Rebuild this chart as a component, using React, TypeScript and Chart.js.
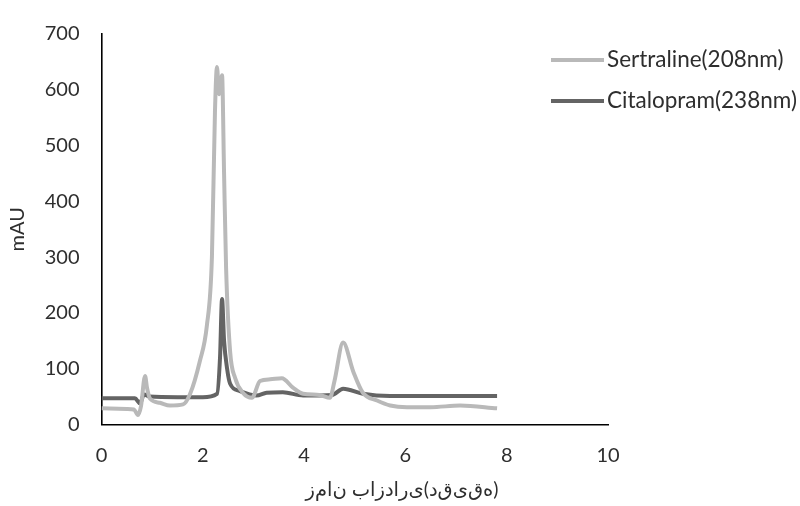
import React, { useEffect, useRef } from "react";
import { Chart, registerables } from "chart.js";

Chart.register(...registerables);

const seriesNames = ["Sertraline(208nm)", "Citalopram(238nm)"];

const sertralineTime = [0, 0.5, 0.64, 0.72, 0.78, 0.86, 0.9, 0.96, 1.15, 1.35, 1.61, 1.75, 1.94, 2.08, 2.18, 2.24, 2.28, 2.32, 2.38, 2.42, 2.46, 2.54, 2.64, 2.79, 2.97, 3.13, 3.33, 3.56, 3.78, 3.98, 4.3, 4.51, 4.6, 4.77, 4.97, 5.16, 5.44, 5.7, 6.03, 6.5, 7.08, 7.81];
const sertralineAbs = [29, 28, 27, 17, 33, 87, 65, 46, 39, 34, 36, 55, 113, 177, 300, 560, 641, 592, 626, 450, 280, 130, 83, 57, 48, 78, 81, 83, 66, 55, 53, 48, 78, 147, 95, 57, 43, 34, 31, 31, 34, 29];

const citalopramTime = [0, 0.66, 0.76, 0.84, 0.95, 1.5, 2.0, 2.28, 2.34, 2.38, 2.42, 2.48, 2.54, 2.73, 3.06, 3.26, 3.58, 3.98, 4.55, 4.77, 5.16, 5.7, 7.81];
const citalopramAbs = [47, 47, 38, 54, 50, 49, 49, 55, 120, 225, 150, 100, 73, 60, 52, 57, 58, 52, 53, 64, 55, 51, 51];

const xTitleText = "زمان بازداری(دقیقه)";
const yTitle = "mAU";

// the reference lays the Persian title out character by character from left to right
const xTitle = Array.from(xTitleText).join("\u200E");

const FONT = "Lato, 'DejaVu Sans', sans-serif";
const TEXT_COLOR = "#2e2e2e";
const COLORS = ["#b9b9b9", "#646464"];

const annotationsPlugin = {
  id: "customLegendAndTitle",
  afterDraw(chart: any) {
    const ctx = chart.ctx;
    const rows = [60, 101];
    ctx.save();
    chart.data.datasets.forEach((ds: any, i: number) => {
      const y = rows[i];
      ctx.strokeStyle = ds.borderColor;
      ctx.lineWidth = 4;
      ctx.lineCap = "butt";
      ctx.beginPath();
      ctx.moveTo(551, y);
      ctx.lineTo(604, y);
      ctx.stroke();
      ctx.fillStyle = TEXT_COLOR;
      ctx.font = `22.5px ${FONT}`;
      ctx.textBaseline = "middle";
      ctx.textAlign = "left";
      ctx.fillText(ds.label, 607, y);
    });
    // x axis title
    ctx.fillStyle = TEXT_COLOR;
    ctx.font = `19.5px ${FONT}`;
    ctx.textBaseline = "middle";
    ctx.textAlign = "center";
    ctx.fillText(xTitle, 402, 490);
    ctx.restore();
  },
};

export default function App() {
  const ref = useRef<HTMLCanvasElement | null>(null);

  useEffect(() => {
    document.body.style.margin = "0";
    const canvas = ref.current;
    if (!canvas) return;
    const toPoints = (xs: number[], ys: number[]) => xs.map((x, i) => ({ x, y: ys[i] }));
    const chart = new Chart(canvas, {
      type: "line",
      data: {
        datasets: [
          {
            label: seriesNames[0],
            data: toPoints(sertralineTime, sertralineAbs),
            borderColor: COLORS[0],
            backgroundColor: COLORS[0],
            borderWidth: 4,
            pointRadius: 0,
            cubicInterpolationMode: "monotone",
          },
          {
            label: seriesNames[1],
            data: toPoints(citalopramTime, citalopramAbs),
            borderColor: COLORS[1],
            backgroundColor: COLORS[1],
            borderWidth: 4,
            pointRadius: 0,
            cubicInterpolationMode: "monotone",
          },
        ],
      },
      options: {
        animation: false,
        responsive: false,
        devicePixelRatio: 1,
        layout: { padding: { left: 0, top: 23, right: 192, bottom: 0 } },
        plugins: {
          legend: { display: false },
          tooltip: { enabled: false },
        },
        scales: {
          x: {
            type: "linear",
            min: 0,
            max: 10,
            ticks: { stepSize: 2, padding: 19, color: TEXT_COLOR, font: { family: FONT, size: 20 } },
            grid: { display: false, drawTicks: false },
            border: { display: true, color: "#000000", width: 1.6 },
            title: { display: false },
            afterFit: (scale: any) => {
              scale.height = 81.5;
            },
          },
          y: {
            min: 0,
            max: 700,
            ticks: { stepSize: 100, padding: 22, color: TEXT_COLOR, font: { family: FONT, size: 20 } },
            grid: { display: false, drawTicks: false },
            border: { display: true, color: "#000000", width: 1.6 },
            title: {
              display: true,
              text: yTitle,
              color: TEXT_COLOR,
              font: { family: FONT, size: 20 },
              padding: { top: 6, bottom: 0 },
            },
            afterFit: (scale: any) => {
              scale.width = 101.5;
            },
          },
        },
      },
      plugins: [annotationsPlugin],
    });
    return () => chart.destroy();
  }, []);

  return (
    <div style={{ width: 800, height: 506 }}>
      <canvas ref={ref} width={800} height={506} style={{ display: "block" }} />
    </div>
  );
}
